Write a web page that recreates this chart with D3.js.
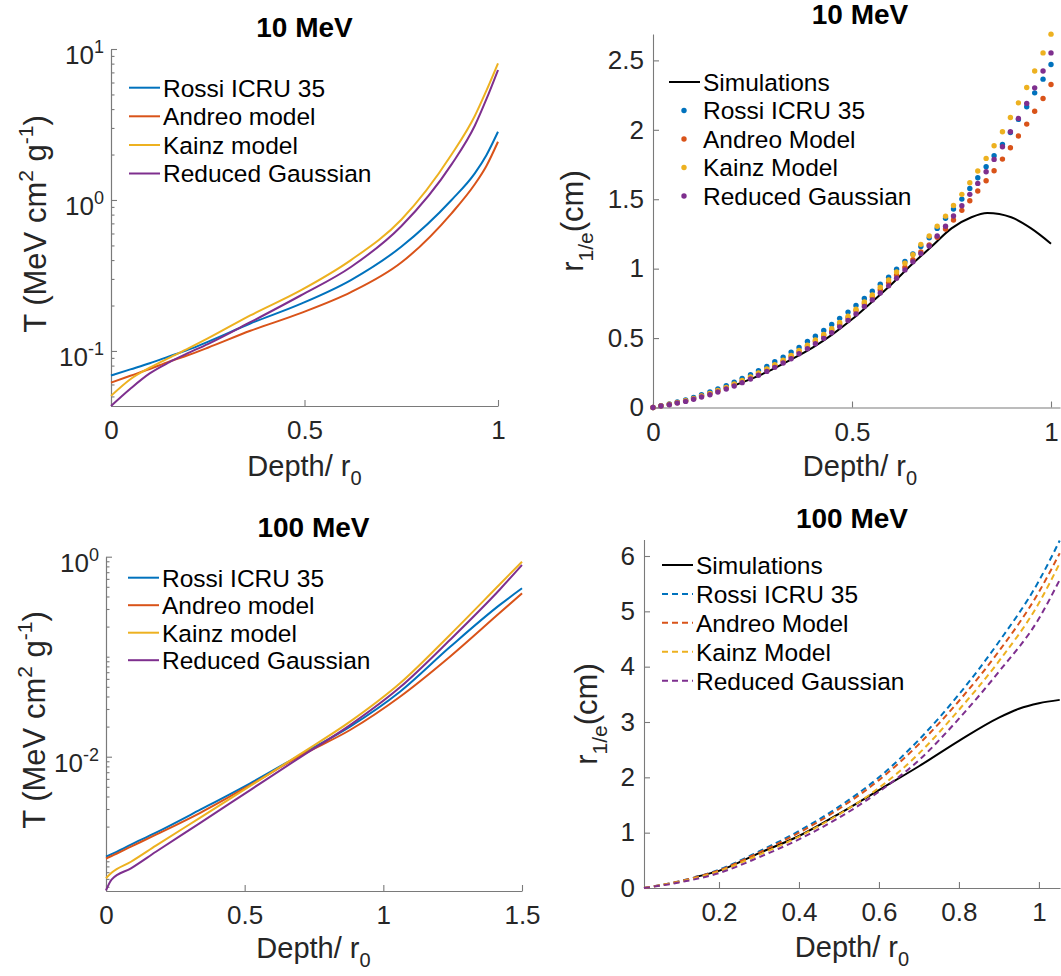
<!DOCTYPE html>
<html>
<head>
<meta charset="utf-8">
<script src="https://d3js.org/d3.v7.min.js"></script>
<style>
body { margin: 0; background: #fff; }
text { font-family: "Liberation Sans", Arial, Helvetica, sans-serif; fill: #262626; }
.title { font-weight: bold; font-size: 28px; fill: #000; }
.tick text, .ticklab { font-size: 26px; fill: #262626; }
.axis path, .axis line { stroke: #7a7a7a; stroke-width: 1.1; }
.leg { font-size: 24.5px; fill: #000; }
.lab { font-size: 29px; fill: #262626; }
.vlab { font-size: 31px; fill: #262626; }
</style>
</head>
<body>
<div id="chart"></div>
<script>
// values

const colors = ["#0072BD", "#D95319", "#EDB120", "#7E2F8E"];
const namesT = ["Rossi ICRU 35", "Andreo model", "Kainz model", "Reduced Gaussian"];
const namesR = ["Simulations", "Rossi ICRU 35", "Andreo Model", "Kainz Model", "Reduced Gaussian"];

// top left: 10 MeV scattering power
const tlDepth  = [0, 0.05, 0.1, 0.15, 0.2, 0.25, 0.36, 0.49, 0.62, 0.75, 0.88, 0.94, 0.97, 1.0];
const tlRossi  = [0.0687, 0.0755, 0.083, 0.092, 0.102, 0.115, 0.152, 0.205, 0.295, 0.49, 1.0, 1.5, 1.98, 2.83];
const tlAndreo = [0.0617, 0.0685, 0.076, 0.085, 0.094, 0.105, 0.136, 0.178, 0.245, 0.385, 0.816, 1.27, 1.68, 2.43];
const tlKainz  = [0.0504, 0.065, 0.0775, 0.090, 0.104, 0.121, 0.172, 0.252, 0.40, 0.74, 2.0, 3.6, 5.3, 8.04];
const tlGauss  = [0.0432, 0.0562, 0.071, 0.084, 0.097, 0.111, 0.155, 0.233, 0.36, 0.67, 1.72, 3.1, 4.65, 7.26];

// bottom left: 100 MeV scattering power
const blDepth  = [0, 0.02, 0.09, 0.18, 0.34, 0.52, 0.70, 0.88, 1.06, 1.24, 1.42, 1.5];
const blRossi  = [1.0e-3, 1.06e-3, 1.32e-3, 1.74e-3, 2.95e-3, 5.42e-3, 1.04e-2, 2.0e-2, 4.47e-2, 0.125, 0.33, 0.483];
const blAndreo = [9.6e-4, 1.016e-3, 1.26e-3, 1.66e-3, 2.75e-3, 5.21e-3, 1.02e-2, 1.85e-2, 3.98e-2, 0.100, 0.275, 0.43];
const blKainz  = [6.1e-4, 6.9e-4, 8.9e-4, 1.29e-3, 2.46e-3, 5.1e-3, 1.06e-2, 2.24e-2, 5.42e-2, 0.165, 0.53, 0.891];
const blGauss  = [4.6e-4, 5.9e-4, 7.65e-4, 1.12e-3, 2.18e-3, 4.64e-3, 9.86e-3, 2.07e-2, 4.94e-2, 0.147, 0.47, 0.826];

// top right: 10 MeV r1/e, model points
const trDepth = [0, 0.020, 0.041, 0.061, 0.082, 0.102, 0.122, 0.143, 0.163, 0.184,
  0.204, 0.224, 0.245, 0.265, 0.286, 0.306, 0.327, 0.347, 0.367, 0.388,
  0.408, 0.429, 0.449, 0.469, 0.490, 0.510, 0.531, 0.551, 0.571, 0.592,
  0.612, 0.633, 0.653, 0.673, 0.694, 0.714, 0.735, 0.755, 0.776, 0.796,
  0.816, 0.837, 0.857, 0.878, 0.898, 0.918, 0.939, 0.959, 0.980, 1.0];
const trRossi = [0, 0.013, 0.025, 0.040, 0.054, 0.073, 0.092, 0.112, 0.133, 0.157,
  0.183, 0.210, 0.236, 0.265, 0.296, 0.330, 0.363, 0.399, 0.433, 0.476,
  0.514, 0.555, 0.598, 0.642, 0.687, 0.735, 0.785, 0.838, 0.888, 0.938,
  0.996, 1.051, 1.106, 1.160, 1.222, 1.290, 1.363, 1.429, 1.501, 1.578,
  1.655, 1.734, 1.813, 1.895, 1.981, 2.075, 2.166, 2.266, 2.365, 2.470];
const trAndreo = [0, 0.012, 0.022, 0.035, 0.048, 0.064, 0.082, 0.100, 0.120, 0.142,
  0.165, 0.190, 0.216, 0.243, 0.272, 0.302, 0.334, 0.367, 0.402, 0.440,
  0.477, 0.517, 0.557, 0.600, 0.645, 0.698, 0.748, 0.797, 0.848, 0.900,
  0.955, 1.010, 1.065, 1.120, 1.170, 1.226, 1.286, 1.350, 1.420, 1.489,
  1.559, 1.633, 1.705, 1.789, 1.871, 1.955, 2.041, 2.134, 2.226, 2.326];
const trKainz = [0, 0.012, 0.023, 0.036, 0.049, 0.066, 0.084, 0.102, 0.122, 0.145,
  0.169, 0.194, 0.220, 0.248, 0.278, 0.309, 0.341, 0.375, 0.410, 0.449,
  0.487, 0.527, 0.568, 0.612, 0.658, 0.708, 0.760, 0.811, 0.866, 0.919,
  0.976, 1.039, 1.100, 1.175, 1.235, 1.305, 1.378, 1.455, 1.535, 1.619,
  1.703, 1.794, 1.885, 1.986, 2.089, 2.194, 2.305, 2.424, 2.554, 2.689];
const trGauss = [0, 0.011, 0.020, 0.032, 0.044, 0.059, 0.076, 0.092, 0.112, 0.133,
  0.155, 0.179, 0.205, 0.232, 0.260, 0.289, 0.320, 0.351, 0.387, 0.423,
  0.459, 0.498, 0.538, 0.581, 0.627, 0.674, 0.727, 0.775, 0.825, 0.876,
  0.931, 0.991, 1.050, 1.108, 1.163, 1.235, 1.305, 1.379, 1.453, 1.535,
  1.614, 1.698, 1.787, 1.878, 1.986, 2.082, 2.190, 2.302, 2.424, 2.554];
const trSimDepth = [0.2, 0.25, 0.3, 0.35, 0.4, 0.45, 0.5, 0.55, 0.6, 0.65, 0.7, 0.75, 0.8, 0.84, 0.9, 0.95, 1.0];
const trSim      = [0.155, 0.21, 0.275, 0.35, 0.43, 0.525, 0.635, 0.76, 0.89, 1.03, 1.16, 1.29, 1.37, 1.40, 1.37, 1.29, 1.18];

// bottom right: 100 MeV r1/e
const brDepth  = [0.0125, 0.1, 0.2, 0.3, 0.4, 0.5, 0.6, 0.7, 0.8, 0.9, 1.0, 1.052];
const brRossi  = [0, 0.12, 0.33, 0.66, 1.03, 1.47, 2.0, 2.68, 3.5, 4.45, 5.55, 6.28];
const brAndreo = [0, 0.12, 0.32, 0.64, 1.0, 1.43, 1.95, 2.6, 3.38, 4.28, 5.35, 6.05];
const brKainz  = [0, 0.11, 0.30, 0.60, 0.93, 1.33, 1.81, 2.43, 3.22, 4.1, 5.15, 5.87];
const brGauss  = [0, 0.10, 0.27, 0.555, 0.88, 1.27, 1.74, 2.31, 3.06, 3.91, 4.87, 5.57];
const brSimDepth = [0.14, 0.2, 0.3, 0.4, 0.5, 0.6, 0.7, 0.8, 0.9, 0.95, 1.0, 1.052];
const brSim      = [0.2, 0.31, 0.63, 0.94, 1.34, 1.77, 2.2, 2.66, 3.08, 3.24, 3.34, 3.40];

const tlXTicks = [0, 0.5, 1], tlYTicks = [0.1, 1, 10];
const blXTicks = [0, 0.5, 1, 1.5], blYTicks = [0.01, 1];
const trXTicks = [0, 0.5, 1], trYTicks = [0, 0.5, 1, 1.5, 2, 2.5];
const brXTicks = [0.2, 0.4, 0.6, 0.8, 1], brYTicks = [0, 1, 2, 3, 4, 5, 6];

const svg = d3.select("#chart").append("svg")
  .attr("width", 1061).attr("height", 976)
  .style("background", "#fff");

// scales
const xTL = d3.scaleLinear().domain([0, 1]).range([111, 498]);
const yTL = d3.scaleLog().domain([0.0432, 10]).range([406, 49]);
const xBL = d3.scaleLinear().domain([0, 1.5]).range([106, 522]);
const yBL = d3.scaleLog().domain([4.54e-4, 1]).range([891, 556.7]);
const xTR = d3.scaleLinear().domain([0, 1.0226]).range([653, 1060]);
const yTR = d3.scaleLinear().domain([0, 2.69]).range([407.5, 34]);
const xBR = d3.scaleLinear().domain([0.0125, 1.0527]).range([644, 1060]);
const yBR = d3.scaleLinear().domain([0, 6.3]).range([888, 539.4]);

function xAxis(x, y, ticks) {
  svg.append("g").attr("class", "axis")
    .attr("transform", "translate(0," + y.range()[0] + ")")
    .call(d3.axisBottom(x).tickValues(ticks).tickSizeInner(-6).tickSizeOuter(0)
      .tickPadding(15).tickFormat(d3.format("")));
}

function linYAxis(x, y, ticks) {
  svg.append("g").attr("class", "axis")
    .attr("transform", "translate(" + x.range()[0] + ",0)")
    .call(d3.axisLeft(y).tickValues(ticks).tickSizeInner(-6).tickSizeOuter(0)
      .tickPadding(9).tickFormat(d3.format("")));
}

function logYAxis(x, y, majors) {
  const x0 = x.range()[0];
  const minors = y.ticks().filter(v => majors.indexOf(v) < 0);
  svg.append("g").attr("class", "axis")
    .attr("transform", "translate(" + x0 + ",0)")
    .call(d3.axisLeft(y).tickValues(minors).tickSizeInner(-3.5).tickSizeOuter(0).tickFormat(""));
  svg.append("g").attr("class", "axis")
    .attr("transform", "translate(" + x0 + ",0)")
    .call(d3.axisLeft(y).tickValues(majors).tickSizeInner(-6).tickSizeOuter(0).tickFormat(""));
  majors.forEach(v => {
    const t = svg.append("text").attr("class", "ticklab")
      .attr("x", x0 - 7).attr("y", y(v) + 15).attr("text-anchor", "end")
      .attr("font-size", 26);
    t.append("tspan").text("10");
    t.append("tspan").attr("dy", -11).attr("font-size", 18)
      .text(Math.round(Math.log10(v)));
  });
}

function curve(x, y, depth, vals, color, dash) {
  const line = d3.line().x(d => x(d[0])).y(d => y(d[1])).curve(d3.curveMonotoneX);
  svg.append("path").datum(d3.zip(depth, vals))
    .attr("d", line).attr("fill", "none")
    .attr("stroke", color).attr("stroke-width", 2)
    .attr("stroke-dasharray", dash || null);
}

function dots(x, y, depth, vals, color) {
  svg.append("g").selectAll("circle")
    .data(d3.zip(depth, vals)).enter().append("circle")
    .attr("cx", d => x(d[0])).attr("cy", d => y(d[1]))
    .attr("r", 2.7).attr("fill", color);
}

function title(txt, cx, by) {
  svg.append("text").attr("class", "title").attr("x", cx).attr("y", by)
    .attr("text-anchor", "middle").text(txt);
}

function depthLabel(cx, by) {
  const t = svg.append("text").attr("class", "lab").attr("x", cx).attr("y", by)
    .attr("text-anchor", "middle");
  t.append("tspan").text("Depth/ r");
  t.append("tspan").attr("dy", 9).attr("font-size", 20).text("0");
}

function tLabel(bx, cy) {
  const t = svg.append("text").attr("class", "vlab")
    .attr("transform", "translate(" + bx + "," + cy + ") rotate(-90)")
    .attr("text-anchor", "middle");
  t.append("tspan").text("T (MeV cm");
  t.append("tspan").attr("dy", -13).attr("font-size", 21).text("2");
  t.append("tspan").attr("dy", 13).text(" g");
  t.append("tspan").attr("dy", -13).attr("font-size", 21).text("-1");
  t.append("tspan").attr("dy", 13).text(")");
}

function rLabel(bx, cy) {
  const t = svg.append("text").attr("class", "vlab")
    .attr("transform", "translate(" + bx + "," + cy + ") rotate(-90)")
    .attr("text-anchor", "middle");
  t.append("tspan").text("r");
  t.append("tspan").attr("dy", 10).attr("font-size", 21).text("1/e");
  t.append("tspan").attr("dy", -10).text("(cm)");
}

function legend(x0, rows, names, kinds) {
  names.forEach((n, i) => {
    const cy = rows[i], k = kinds[i];
    if (k.type === "dot") {
      svg.append("circle").attr("cx", x0 + 15).attr("cy", cy).attr("r", 2.7).attr("fill", k.color);
    } else {
      svg.append("line").attr("x1", x0).attr("x2", x0 + 31).attr("y1", cy).attr("y2", cy)
        .attr("stroke", k.color).attr("stroke-width", 2)
        .attr("stroke-dasharray", k.dash || null);
    }
    svg.append("text").attr("class", "leg").attr("x", x0 + 34).attr("y", cy)
      .attr("dy", "0.36em").text(n);
  });
}

// ---- top left
xAxis(xTL, yTL, tlXTicks);
logYAxis(xTL, yTL, tlYTicks);
[tlRossi, tlAndreo, tlKainz, tlGauss].forEach((s, i) => curve(xTL, yTL, tlDepth, s, colors[i]));
title("10 MeV", 304.5, 37);
depthLabel(304.5, 476);
tLabel(46, 224);
legend(129, [87.7, 116.3, 145, 173.5], namesT, colors.map(c => ({type: "line", color: c})));

// ---- bottom left
xAxis(xBL, yBL, blXTicks);
logYAxis(xBL, yBL, blYTicks);
[blRossi, blAndreo, blKainz, blGauss].forEach((s, i) => curve(xBL, yBL, blDepth, s, colors[i]));
title("100 MeV", 313.5, 537);
depthLabel(313.5, 958);
tLabel(45, 720);
legend(128, [577.7, 605.2, 632.7, 660.2], namesT, colors.map(c => ({type: "line", color: c})));

// ---- top right
xAxis(xTR, yTR, trXTicks);
linYAxis(xTR, yTR, trYTicks);
curve(xTR, yTR, trSimDepth, trSim, "#000");
[trRossi, trAndreo, trKainz, trGauss].forEach((s, i) => dots(xTR, yTR, trDepth, s, colors[i]));
title("10 MeV", 860, 24);
depthLabel(860, 476);
rLabel(583, 221);
legend(669, [82, 110.5, 139, 167.5, 196], namesR,
  [{type: "line", color: "#000"}].concat(colors.map(c => ({type: "dot", color: c}))));

// ---- bottom right
xAxis(xBR, yBR, brXTicks);
linYAxis(xBR, yBR, brYTicks);
curve(xBR, yBR, brSimDepth, brSim, "#000");
[brRossi, brAndreo, brKainz, brGauss].forEach((s, i) => curve(xBR, yBR, brDepth, s, colors[i], "6,4"));
title("100 MeV", 852, 528);
depthLabel(852, 957);
rLabel(597, 714);
legend(662, [565, 594, 622.7, 651.7, 680.7], namesR,
  [{type: "line", color: "#000"}].concat(colors.map(c => ({type: "line", color: c, dash: "6,4"}))));
</script>
</body>
</html>
